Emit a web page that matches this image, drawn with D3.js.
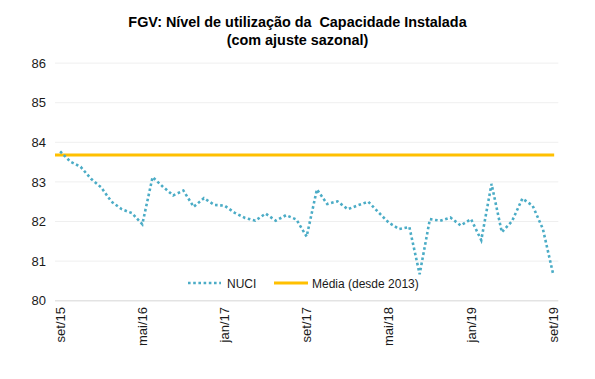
<!DOCTYPE html>
<html>
<head>
<meta charset="utf-8">
<script src="https://cdn.jsdelivr.net/npm/d3@7"></script>
<style>
  body { margin: 0; background: #fff; }
  svg { font-family: "Liberation Sans", Arial, sans-serif; }
</style>
</head>
<body>
<svg id="chart" width="595" height="379"></svg>
<script>
const months = ["jan","fev","mar","abr","mai","jun","jul","ago","set","out","nov","dez"];
// categories: set/15 .. set/19
const categories = [];
for (let y = 2015, m = 8; y < 2019 || (y === 2019 && m <= 8); ) {
  categories.push(months[m] + "/" + String(y).slice(2));
  m++; if (m === 12) { m = 0; y++; }
}
const nuci = [
  83.77, 83.51, 83.38, 83.08, 82.86, 82.50, 82.31, 82.21, 81.93, 83.12,
  82.88, 82.66, 82.78, 82.37, 82.59, 82.42, 82.40, 82.22, 82.09, 82.02,
  82.20, 82.02, 82.16, 82.05, 81.62, 82.81, 82.44, 82.51, 82.31, 82.41,
  82.50, 82.23, 81.97, 81.81, 81.86, 80.67, 82.06, 82.02, 82.10, 81.90,
  82.06, 81.53, 82.95, 81.73, 82.01, 82.58, 82.40, 81.81, 80.67
];
const media = 83.68;
const yTicks = [80, 81, 82, 83, 84, 85, 86];
const xTickLabels = ["set/15","mai/16","jan/17","set/17","mai/18","jan/19","set/19"];
const titleLines = ["FGV: Nível de utilização da  Capacidade Instalada", "(com ajuste sazonal)"];
const legendLabels = ["NUCI", "Média (desde 2013)"];

const svg = d3.select("#chart");
const x = d3.scaleBand().domain(categories).range([55, 558.3]).paddingInner(0).paddingOuter(0);
const y = d3.scaleLinear().domain([80, 86]).range([300.7, 63.1]);
const cx = d => x(d) + x.bandwidth() / 2;

// gridlines
svg.append("g").selectAll("line").data(yTicks).join("line")
  .attr("x1", 55).attr("x2", 558.3)
  .attr("y1", d => y(d)).attr("y2", d => y(d))
  .attr("stroke", d => d === 80 ? "#e3e3e3" : "#efefef")
  .attr("stroke-width", d => d === 80 ? 1.5 : 1);

// y axis labels
const yAxis = d3.axisLeft(y).tickValues(yTicks).tickSize(0).tickPadding(0).tickFormat(d3.format("d"));
const gy = svg.append("g").attr("transform", "translate(46,0)").call(yAxis);
gy.select(".domain").remove();
gy.selectAll("text").attr("font-size", 13).attr("fill", "#1a1a1a")
  .attr("font-family", "Liberation Sans, Arial, sans-serif");

// x axis labels
const xAxis = d3.axisBottom(x).tickValues(xTickLabels).tickSize(0).tickPadding(0);
const gx = svg.append("g").attr("transform", "translate(0,307)").call(xAxis);
gx.select(".domain").remove();
gx.selectAll("text")
  .attr("font-size", 13).attr("fill", "#1a1a1a")
  .attr("font-family", "Liberation Sans, Arial, sans-serif")
  .attr("text-anchor", "end")
  .attr("transform", "rotate(-90)")
  .attr("x", 0).attr("y", 0).attr("dy", "0.35em").attr("dx", 0);

// mean line
svg.append("line")
  .attr("x1", 55).attr("x2", cx(categories[categories.length - 1]) + 1)
  .attr("y1", y(media)).attr("y2", y(media))
  .attr("stroke", "#FFC000").attr("stroke-width", 3);

// NUCI dotted line
const line = d3.line().x((d, i) => cx(categories[i])).y(d => y(d));
svg.append("path").datum(nuci)
  .attr("d", line)
  .attr("fill", "none")
  .attr("stroke", "#4BACC6")
  .attr("stroke-width", 2.6)
  .attr("stroke-dasharray", "2.6,2.6");

// title
svg.append("g").selectAll("text").data(titleLines).join("text")
  .attr("x", 297.5).attr("y", (d, i) => 27 + i * 18)
  .attr("text-anchor", "middle")
  .attr("font-size", 14.4).attr("font-weight", "bold").attr("fill", "#000")
  .style("white-space", "pre")
  .text(d => d);

// legend
const lg = svg.append("g");
lg.append("line").attr("x1", 188).attr("x2", 221).attr("y1", 283).attr("y2", 283)
  .attr("stroke", "#4BACC6").attr("stroke-width", 2.6).attr("stroke-dasharray", "2.6,2.6");
lg.append("text").attr("x", 227).attr("y", 287.5).attr("font-size", 12).attr("fill", "#1a1a1a").text(legendLabels[0]);
lg.append("line").attr("x1", 274).attr("x2", 308).attr("y1", 283).attr("y2", 283)
  .attr("stroke", "#FFC000").attr("stroke-width", 3);
lg.append("text").attr("x", 312).attr("y", 287.5).attr("font-size", 12).attr("fill", "#1a1a1a").text(legendLabels[1]);
</script>
</body>
</html>
